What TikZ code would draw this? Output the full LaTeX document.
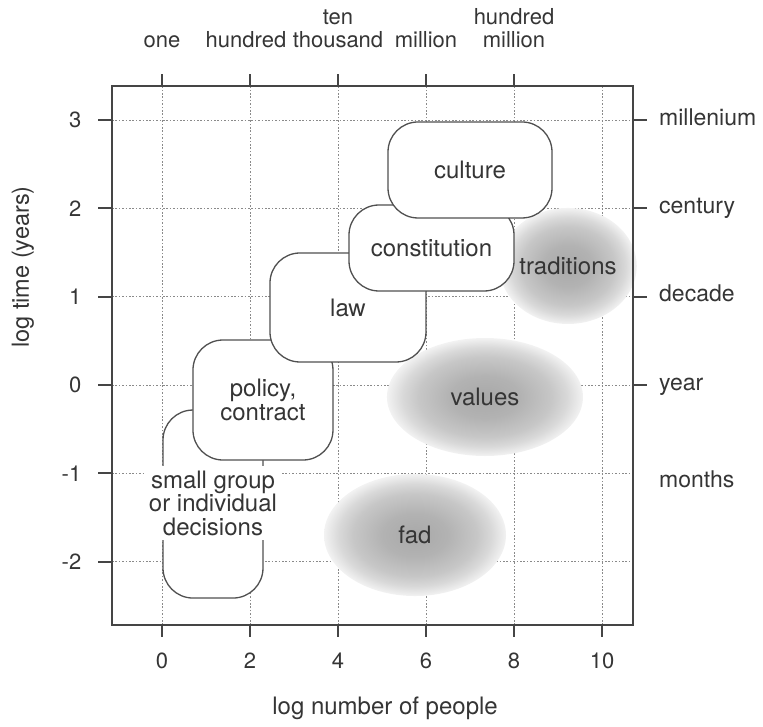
\documentclass[tikz,border=0pt]{standalone}
\usepackage{fontspec}
\setmainfont{TeX Gyre Heros}
\usetikzlibrary{shapes.geometric}
\definecolor{txt}{HTML}{353535}
\definecolor{edge}{HTML}{505050}
\definecolor{framec}{HTML}{454545}
\definecolor{gridc}{HTML}{8A8A8A}
\pgfdeclareradialshading{blobshade}{\pgfpoint{0bp}{0bp}}{color(0bp)=(black!34); color(9bp)=(black!30); color(17bp)=(black!22); color(21bp)=(black!15); color(25bp)=(black!5); color(50bp)=(white)}
\newcommand{\bigf}{\fontsize{24}{23.5}\selectfont}
\tikzset{
  gridline/.style={draw=gridc, line width=0.7pt, dash pattern=on 1.6pt off 1.8pt},
  framest/.style={draw=framec, line width=2pt},
  tickst/.style={draw=framec, line width=2pt},
  rbox/.style={draw=edge, line width=1.3pt, fill=white, rounded corners=30pt, inner sep=0pt, align=center, font=\bigf},
  blob/.style={ellipse, shading=blobshade, inner sep=0pt, font=\bigf},
  lab/.style={inner sep=0pt, text=txt},
}
\begin{document}
\begin{tikzpicture}[x=44pt, y=88.3pt, font=\fontsize{22}{23}\selectfont, text=txt]
\useasboundingbox (-3.6818,-3.8618) rectangle (13.659,4.3601);
% grid
\foreach \x in {0,2,...,10} \draw[gridline] (\x,-2.718) -- (\x,3.386);
\foreach \y in {-2,...,3} \draw[gridline] (-1.136,\y) -- (10.705,\y);
% blobs
\node[blob, minimum width=196pt, minimum height=118pt] (values) at (7.34,-0.136) {values};
\node[blob, minimum width=182pt, minimum height=122pt] (fad) at (5.75,-1.699) {fad};
\node[blob, minimum width=124pt, minimum height=116pt] (traditions) at (9.227,1.348) {traditions};
% boxes
\node[rbox, minimum width=100pt, minimum height=188pt] (smallbox) at (1.159,-1.348) {};
\node[rbox, minimum width=140pt, minimum height=120pt] (policy) at (2.295,-0.170) {policy,\\contract};
\node[rbox, minimum width=156pt, minimum height=109pt] (law) at (4.227,0.8777) {law};
\node[rbox, minimum width=165pt, minimum height=86pt] (constitution) at (6.125,1.5515) {constitution};
\node[rbox, minimum width=164pt, minimum height=96pt] (culture) at (7.0,2.435) {culture};
\node[fill=white, inner xsep=3pt, inner ysep=5pt, align=center, font=\bigf] (small) at (1.159,-1.336) {small group\\or individual\\decisions};
% frame
\draw[framest] (-1.136,-2.718) rectangle (10.705,3.386);
% left axis
\foreach \y in {-2,...,3} {
  \draw[tickst] (-1.4545,\y) -- (-1.136,\y);
  \node[lab, anchor=east] (ly\y) at (-1.83,\y) {\y};
}
\node[lab, rotate=90, font=\fontsize{23.5}{24}\selectfont] (ytitle) at (-3.16,1.336) {log time (years)};
% right axis
\foreach \y/\t in {0/year,1/decade,2/century,3/millenium} {
  \draw[tickst] (10.705,\y) -- (11.023,\y);
  \node[lab, anchor=base west, font=\fontsize{23}{24}\selectfont] (ry\y) at (11.295,\y-0.057) {\t};
}
\node[lab, anchor=base west, font=\fontsize{23}{24}\selectfont] (rmonths) at (11.295,-1.166) {months};
% top axis
\foreach \x in {0,2,4,6,8} \draw[tickst] (\x,3.386) -- (\x,3.522);
\node[lab, anchor=south, align=center] (tone) at (0,3.811) {one};
\node[lab, anchor=south, align=center] (thund) at (1.909,3.811) {hundred};
\node[lab, anchor=south, align=center] (tthou) at (4,3.811) {ten\\thousand};
\node[lab, anchor=south, align=center] (tmill) at (6,3.811) {million};
\node[lab, anchor=south, align=center] (thmill) at (8,3.811) {hundred\\million};
% bottom axis
\foreach \x in {0,2,...,10} {
  \draw[tickst] (\x,-2.718) -- (\x,-2.854);
  \node[lab, anchor=base] (bx\x) at (\x,-3.205) {\x};
}
\node[lab, anchor=base, font=\fontsize{24}{24}\selectfont] (xtitle) at (5.07,-3.726) {log number of people};
\end{tikzpicture}
\end{document}
